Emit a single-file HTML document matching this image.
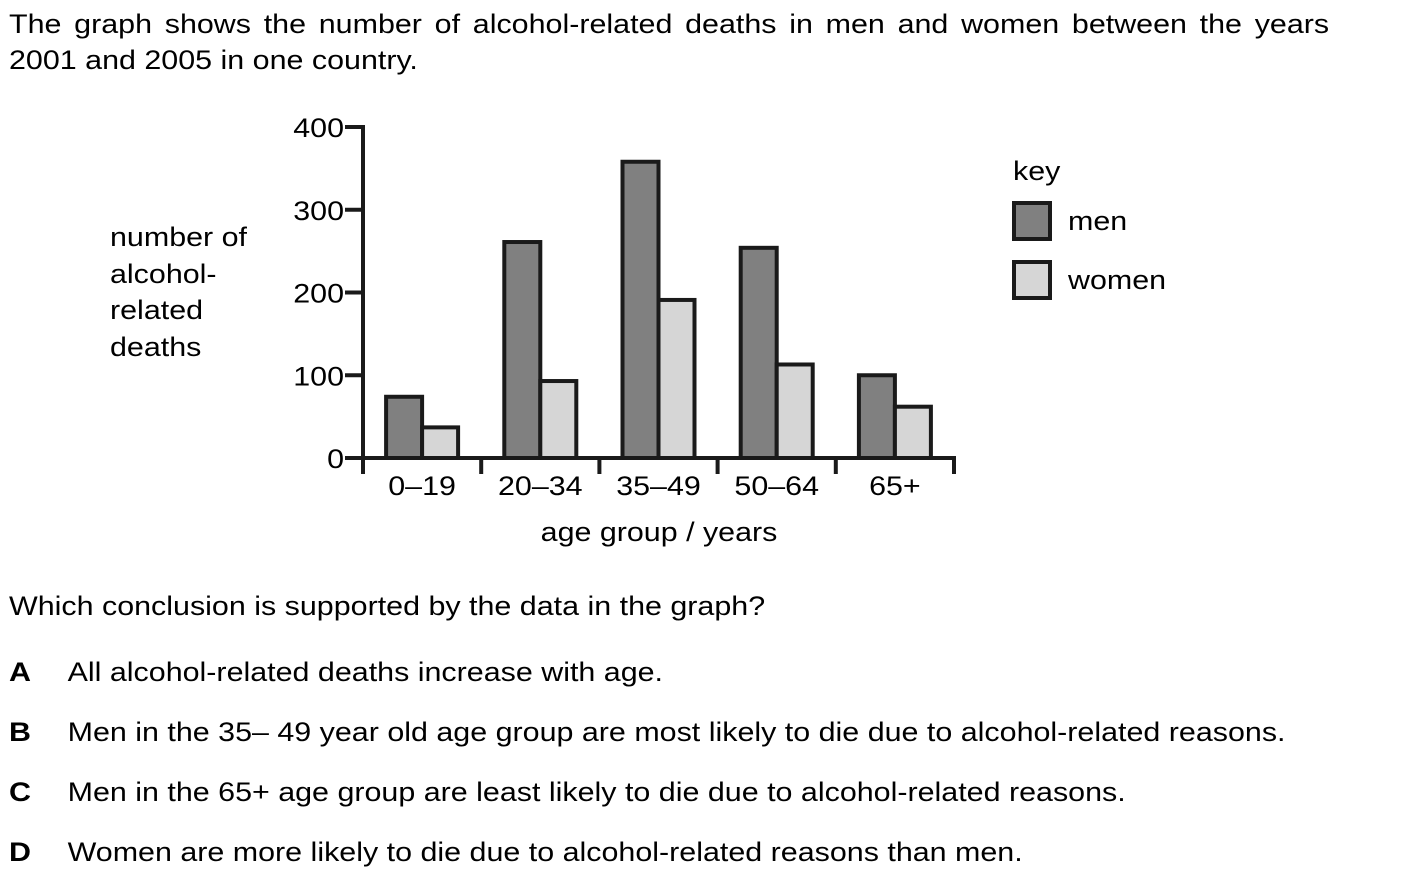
<!DOCTYPE html>
<html><head><meta charset="utf-8"><style>
body{margin:0;width:1413px;height:885px;background:#fff;font-family:"Liberation Sans",Arial,sans-serif;color:#000;position:relative;overflow:hidden}
.t{position:absolute;font-size:27px;white-space:nowrap;line-height:1;transform:scaleX(1.127);transform-origin:0 0}
</style></head><body>
<div class="t" style="left:9px;top:11px;word-spacing:3.8px">The graph shows the number of alcohol-related deaths in men and women between the years</div>
<div class="t" style="left:9px;top:47px">2001 and 2005 in one country.</div>
<div class="t" style="left:110px;top:219px;line-height:36.5px">number of<br>alcohol-<br>related<br>deaths</div>
<svg width="1413" height="885" style="position:absolute;left:0;top:0" id="chart"></svg>
<div class="t" style="left:9px;top:593px">Which conclusion is supported by the data in the graph?</div>
<div class="t" style="left:9px;top:659px"><b style="display:inline-block;width:52px">A</b>All alcohol-related deaths increase with age.</div>
<div class="t" style="left:9px;top:719px"><b style="display:inline-block;width:52px">B</b>Men in the 35– 49 year old age group are most likely to die due to alcohol-related reasons.</div>
<div class="t" style="left:9px;top:779px"><b style="display:inline-block;width:52px">C</b>Men in the 65+ age group are least likely to die due to alcohol-related reasons.</div>
<div class="t" style="left:9px;top:839px"><b style="display:inline-block;width:52px">D</b>Women are more likely to die due to alcohol-related reasons than men.</div>
<script>
const categories=["0–19","20–34","35–49","50–64","65+"];
const men=[74,261,358,254,100];
const women=[37,93,191,113,62];
const yTicks=[0,100,200,300,400];
const svg=document.getElementById('chart');
const NS='http://www.w3.org/2000/svg';
const x0=363,y0=458,yTop=127,catW=118.2,barW=36;
const y=v=>y0-(v/400)*(y0-yTop);
const xc=i=>x0+catW*(i+0.5);
function mk(tag,a){const e=document.createElementNS(NS,tag);for(const k in a)e.setAttribute(k,a[k]);svg.appendChild(e);return e;}
function txt(s,x,yy,anchor,size){const t=mk('text',{x:0,y:0,'text-anchor':anchor,'font-size':size,'font-family':'Liberation Sans, Arial, sans-serif',transform:'translate('+x+','+yy+') scale(1.127,1)'});t.textContent=s;return t;}
categories.forEach((c,i)=>{
  let r=mk('rect',{x:xc(i)-barW,y:y(men[i]),width:barW,height:y0-y(men[i]),fill:'#808080',stroke:'#1a1a1a','stroke-width':4});
  
  
  let w=mk('rect',{x:xc(i),y:y(women[i]),width:barW,height:y0-y(women[i]),fill:'#d6d6d6',stroke:'#1a1a1a','stroke-width':4});
  
  
  let t=txt(c,xc(i),495,'middle',27);
  
  
});
mk('line',{x1:x0,y1:yTop-2,x2:x0,y2:474,stroke:'#1a1a1a','stroke-width':4});
mk('line',{x1:x0,y1:y0,x2:x0+catW*5+2,y2:y0,stroke:'#1a1a1a','stroke-width':4});
for(let i=1;i<=5;i++)mk('line',{x1:x0+catW*i,y1:y0,x2:x0+catW*i,y2:474,stroke:'#1a1a1a','stroke-width':4});
yTicks.forEach(v=>{
  mk('line',{x1:x0-18,y1:y(v),x2:x0,y2:y(v),stroke:'#1a1a1a','stroke-width':4});
  let t=txt(String(v),x0-19,y(v)+10,'end',27);
  
  
});
let xt=txt('age group / years',659,541,'middle',27);


let k=txt('key',1013,180,'start',27);


[['men','#808080',203],['women','#d6d6d6',262]].forEach(([n,f,yy])=>{
  let r=mk('rect',{x:1014,y:yy,width:36,height:36,fill:f,stroke:'#1a1a1a','stroke-width':4});
  
  
  let t=txt(n,1068,yy+27,'start',27);
  
  
});
</script>
</body></html>
